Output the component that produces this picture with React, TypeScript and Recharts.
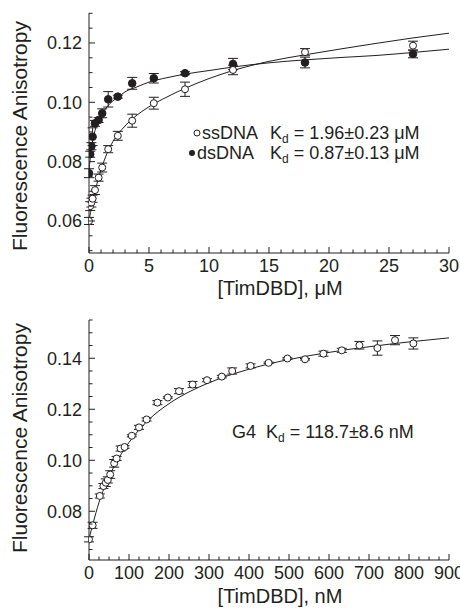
import { ComposedChart, Scatter, Line, XAxis, YAxis, ErrorBar, Customized } from 'recharts';

const INK = '#231f20';
const FONT = '"Liberation Sans", Arial, Helvetica, sans-serif';

// top panel: ssDNA / dsDNA titration, [TimDBD] in µM
const conc = [0, 0.1, 0.2, 0.3, 0.5, 0.8, 1.1, 1.6, 2.4, 3.6, 5.4, 8, 12, 18, 27];
const ssAniso = [0.06, 0.065, 0.0662, 0.0675, 0.0704, 0.0746, 0.078, 0.0842, 0.0887, 0.0938, 0.0997, 0.1044, 0.1109, 0.1169, 0.1191];
const ssErr = [0.0012, 0.0015, 0.0015, 0.0012, 0.0015, 0.0012, 0.0015, 0.0012, 0.0015, 0.0022, 0.002, 0.0024, 0.0016, 0.0012, 0.0015];
const dsAniso = [0.0761, 0.0825, 0.0852, 0.0884, 0.0929, 0.094, 0.0963, 0.101, 0.1019, 0.1064, 0.1081, 0.1098, 0.1129, 0.1134, 0.1163];
const dsErr = [0.0015, 0.001, 0.0012, 0.003, 0.001, 0.0008, 0.0015, 0.0026, 0.0005, 0.002, 0.0016, 0.0005, 0.0019, 0.0018, 0.0013];

// fitted curves
const ssFitX = [0, 0.25, 0.5, 0.75, 1, 1.5, 2, 3, 4, 5, 6.5, 8, 10, 12, 15, 18, 21, 24, 27, 30];
const ssFitY = [0.06, 0.0655, 0.07, 0.0738, 0.0772, 0.0828, 0.0868, 0.092, 0.0957, 0.0985, 0.1018, 0.1047, 0.108, 0.1107, 0.1138, 0.116, 0.118, 0.1199, 0.1217, 0.1233];
const dsFitX = [0, 0.1, 0.2, 0.35, 0.5, 0.75, 1, 1.5, 2, 2.5, 3, 4, 5, 6.5, 8, 10, 12, 15, 18, 21, 24, 27, 30];
const dsFitY = [0.077, 0.081, 0.0845, 0.088, 0.0905, 0.0935, 0.0955, 0.0985, 0.1005, 0.102, 0.1035, 0.1052, 0.1068, 0.1083, 0.1095, 0.1107, 0.1119, 0.1133, 0.1143, 0.1151, 0.1158, 0.1168, 0.1179];

const uMTicks = [0, 1, 2, 3, 4, 5, 6, 7, 8, 9, 10, 11, 12, 13, 14, 15, 16, 17, 18, 19, 20, 21, 22, 23, 24, 25, 26, 27, 28, 29, 30];
const topYTicks = [0.05, 0.055, 0.06, 0.065, 0.07, 0.075, 0.08, 0.085, 0.09, 0.095, 0.1, 0.105, 0.11, 0.115, 0.12, 0.125, 0.13];

// bottom panel: G4, [TimDBD] in nM
const g4Conc = [0, 9, 27, 36, 42, 47, 53, 63, 69, 79, 89, 107, 125, 144, 171, 197, 225, 259, 295, 332, 358, 404, 449, 496, 540, 586, 632, 676, 721, 765, 811];
const g4Aniso = [0.069, 0.0745, 0.086, 0.0899, 0.0912, 0.0923, 0.0944, 0.0988, 0.1007, 0.1046, 0.1052, 0.1096, 0.1129, 0.116, 0.1226, 0.1246, 0.1271, 0.1297, 0.1314, 0.1328, 0.135, 0.137, 0.1382, 0.1399, 0.1396, 0.1418, 0.1431, 0.1451, 0.144, 0.1471, 0.1458];
const g4Err = [0.001, 0.0012, 0.0008, 0.001, 0.0015, 0.0012, 0.0015, 0.0015, 0.0008, 0.001, 0.0005, 0.0004, 0.0008, 0.0006, 0.0008, 0.0003, 0.001, 0.0012, 0.0006, 0.0005, 0.0012, 0.0008, 0.0003, 0.0003, 0.0003, 0.001, 0.0008, 0.0015, 0.0028, 0.0018, 0.0022];
const g4FitX = [0, 10, 25, 50, 75, 100, 150, 200, 250, 300, 350, 400, 450, 500, 550, 600, 650, 700, 750, 800, 850, 900];
const g4FitY = [0.0693, 0.0752, 0.0835, 0.0935, 0.101, 0.107, 0.116, 0.1222, 0.1268, 0.1304, 0.1333, 0.1357, 0.1378, 0.1395, 0.141, 0.1423, 0.1435, 0.1445, 0.1455, 0.1464, 0.1472, 0.148];

const nMTicks = [0, 25, 50, 75, 100, 125, 150, 175, 200, 225, 250, 275, 300, 325, 350, 375, 400, 425, 450, 475, 500, 525, 550, 575, 600, 625, 650, 675, 700, 725, 750, 775, 800, 825, 850, 875, 900];
const bottomYTicks = [0.065, 0.07, 0.075, 0.08, 0.085, 0.09, 0.095, 0.1, 0.105, 0.11, 0.115, 0.12, 0.125, 0.13, 0.135, 0.14, 0.145, 0.15, 0.155];

const zip = (xs: number[], ys: number[], es?: number[]) =>
  xs.map((x, i) => ({ x, y: ys[i], e: es ? es[i] : 0 }));

const isMajorY = (v: number) => Math.abs(v / 0.02 - Math.round(v / 0.02)) < 1e-6;

function BottomTick(props: any) {
  const { x, y, payload, step } = props;
  const major = payload.value % step === 0;
  return (
    <g>
      <line x1={x} x2={x} y1={y} y2={y - (major ? 6 : 3.5)} stroke={INK} />
      {major && (
        <text x={x} y={y + 19} textAnchor="middle" fontSize={18} fontFamily={FONT} fill={INK}>
          {payload.value}
        </text>
      )}
    </g>
  );
}

function TopTick(props: any) {
  const { x, y, payload, step } = props;
  const major = payload.value % step === 0;
  return <line x1={x} x2={x} y1={y} y2={y + (major ? 6 : 3.5)} stroke={INK} />;
}

function LeftTick(props: any) {
  const { x, y, payload } = props;
  const major = isMajorY(payload.value);
  return (
    <g>
      <line x1={x} x2={x + (major ? 6 : 3.5)} y1={y} y2={y} stroke={INK} />
      {major && (
        <text x={x - 7} y={y + 6.5} textAnchor="end" fontSize={18} fontFamily={FONT} fill={INK}>
          {payload.value.toFixed(2)}
        </text>
      )}
    </g>
  );
}

function RightTick(props: any) {
  const { x, y, payload } = props;
  const major = isMajorY(payload.value);
  return <line x1={x} x2={x - (major ? 6 : 3.5)} y1={y} y2={y} stroke={INK} />;
}

const openDot = (p: any) => <circle cx={p.cx} cy={p.cy} r={3.5} fill="#fff" stroke={INK} strokeWidth={1} />;
const filledDot = (p: any) => <circle cx={p.cx} cy={p.cy} r={3.8} fill={INK} stroke={INK} strokeWidth={1} />;

function Kd({ x, y, value }: { x: number; y: number; value: string }) {
  return (
    <text x={x} y={y} fontSize={18} fontFamily={FONT} fill={INK}>
      K
      <tspan dy={4} fontSize={12}>d</tspan>
      <tspan dy={-4}>{` = ${value}`}</tspan>
    </text>
  );
}

function AxisTitles({ cx, xBase, cy, xLabel }: { cx: number; xBase: number; cy: number; xLabel: string }) {
  return (
    <g fontFamily={FONT} fill={INK}>
      <text x={cx} y={xBase} textAnchor="middle" fontSize={20}>{xLabel}</text>
      <text transform={`translate(27, ${cy}) rotate(-90)`} textAnchor="middle" fontSize={21}>Fluorescence Anisotropy</text>
    </g>
  );
}

function TopPanel() {
  return (
    <ComposedChart width={460} height={308} margin={{ top: 13, right: 11, bottom: 0, left: 0 }}>
      <XAxis dataKey="x" type="number" domain={[0, 30]} ticks={uMTicks} interval={0} allowDataOverflow
        height={55} tickSize={0} tickMargin={0} stroke={INK} tick={(p: any) => <BottomTick {...p} step={5} />} />
      <XAxis xAxisId="top" orientation="top" type="number" domain={[0, 30]} ticks={uMTicks} interval={0}
        height={0} tickSize={0} tickMargin={0} stroke={INK} tick={(p: any) => <TopTick {...p} step={5} />} />
      <YAxis type="number" domain={[0.0492, 0.1301]} ticks={topYTicks} interval={0} allowDataOverflow
        width={89} tickSize={0} tickMargin={0} stroke={INK} tick={<LeftTick />} />
      <YAxis yAxisId="right" orientation="right" type="number" domain={[0.0492, 0.1301]} ticks={topYTicks} interval={0}
        width={0} tickSize={0} tickMargin={0} stroke={INK} tick={<RightTick />} />
      <Line data={zip(ssFitX, ssFitY)} dataKey="y" type="monotone" dot={false} stroke={INK} strokeWidth={1} isAnimationActive={false} />
      <Line data={zip(dsFitX, dsFitY)} dataKey="y" type="monotone" dot={false} stroke={INK} strokeWidth={1} isAnimationActive={false} />
      <Scatter data={zip(conc, dsAniso, dsErr)} dataKey="y" shape={filledDot} isAnimationActive={false}>
        <ErrorBar dataKey="e" direction="y" width={5} stroke={INK} strokeWidth={1} />
      </Scatter>
      <Scatter data={zip(conc, ssAniso, ssErr)} dataKey="y" shape={openDot} isAnimationActive={false}>
        <ErrorBar dataKey="e" direction="y" width={5} stroke={INK} strokeWidth={1} />
      </Scatter>
      <Customized
        component={() => (
          <g>
            <AxisTitles cx={280} xBase={295} cy={136} xLabel="[TimDBD], μM" />
            <circle cx={197} cy={133} r={3} fill="#fff" stroke={INK} />
            <text x={202} y={139} fontSize={18} fontFamily={FONT} fill={INK}>ssDNA</text>
            <Kd x={270} y={139} value="1.96±0.23 μM" />
            <circle cx={192} cy={153} r={3} fill={INK} />
            <text x={197} y={159} fontSize={18} fontFamily={FONT} fill={INK}>dsDNA</text>
            <Kd x={270} y={159} value="0.87±0.13 μM" />
          </g>
        )}
      />
    </ComposedChart>
  );
}

function BottomPanel() {
  return (
    <ComposedChart width={460} height={306} margin={{ top: 12, right: 11, bottom: 0, left: 0 }}>
      <XAxis dataKey="x" type="number" domain={[0, 900]} ticks={nMTicks} interval={0} allowDataOverflow
        height={54} tickSize={0} tickMargin={0} stroke={INK} tick={(p: any) => <BottomTick {...p} step={100} />} />
      <XAxis xAxisId="top" orientation="top" type="number" domain={[0, 900]} ticks={nMTicks} interval={0}
        height={0} tickSize={0} tickMargin={0} stroke={INK} tick={(p: any) => <TopTick {...p} step={100} />} />
      <YAxis type="number" domain={[0.0609, 0.155]} ticks={bottomYTicks} interval={0} allowDataOverflow
        width={89} tickSize={0} tickMargin={0} stroke={INK} tick={<LeftTick />} />
      <YAxis yAxisId="right" orientation="right" type="number" domain={[0.0609, 0.155]} ticks={bottomYTicks} interval={0}
        width={0} tickSize={0} tickMargin={0} stroke={INK} tick={<RightTick />} />
      <Line data={zip(g4FitX, g4FitY)} dataKey="y" type="monotone" dot={false} stroke={INK} strokeWidth={1} isAnimationActive={false} />
      <Scatter data={zip(g4Conc, g4Aniso, g4Err)} dataKey="y" shape={openDot} isAnimationActive={false}>
        <ErrorBar dataKey="e" direction="y" width={5} stroke={INK} strokeWidth={1} />
      </Scatter>
      <Customized
        component={() => (
          <g>
            <AxisTitles cx={280} xBase={295} cy={130} xLabel="[TimDBD], nM" />
            <text x={232} y={130} fontSize={18} fontFamily={FONT} fill={INK}>G4</text>
            <Kd x={266} y={130} value="118.7±8.6 nM" />
          </g>
        )}
      />
    </ComposedChart>
  );
}

export default function App() {
  return (
    <div style={{ position: 'absolute', left: 0, top: 0, width: 460, height: 614, overflow: 'hidden', background: '#fff' }}>
      <TopPanel />
      <BottomPanel />
    </div>
  );
}
